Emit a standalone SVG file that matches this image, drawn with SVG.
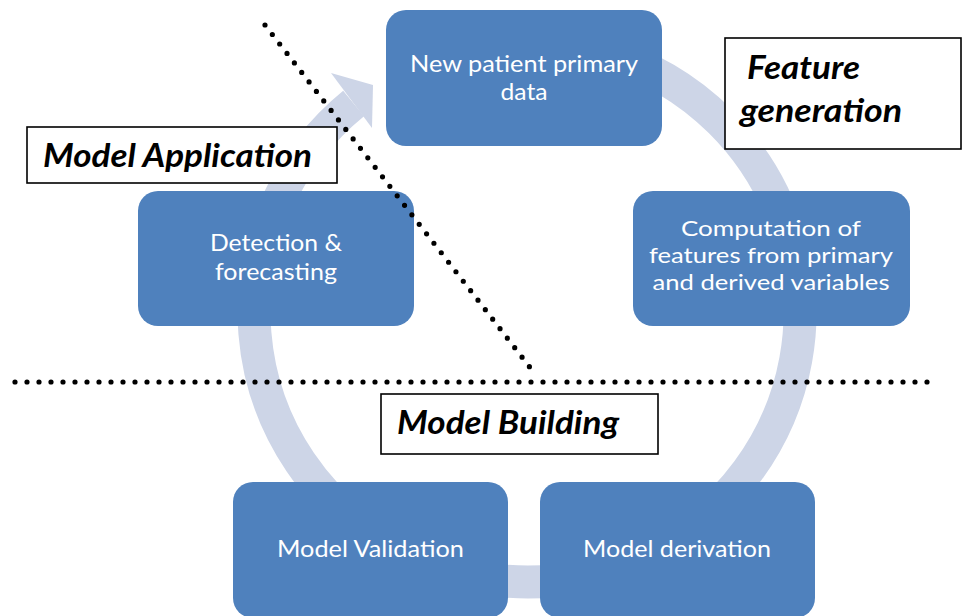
<svg xmlns="http://www.w3.org/2000/svg" width="963" height="616" viewBox="0 0 963 616">
<style>
.box{fill:#4F81BD}
.bt{font-family:Lato,"Open Sans",sans-serif;font-size:24px;fill:#FFFFFF;text-anchor:middle}
.bs{font-size:22px}
.lab{fill:#FFFFFF;stroke:#000000;stroke-width:1.6}
.lt{font-family:Lato,"Open Sans",sans-serif;font-size:32px;font-weight:bold;font-style:italic;fill:#000000}
.ring{fill:none;stroke:#CDD5E7;stroke-width:33}
.head{fill:#CDD5E7}
.dots{fill:none;stroke:#000000;stroke-width:5.2;stroke-linecap:round;stroke-dasharray:0 12}
</style>
<rect width="963" height="616" fill="#FFFFFF"/>
<g id="connectors">
  <path class="ring" d="M479.6,46.1 A273,270 0 1 1 353.6,103.5"/>
  <polygon class="head" points="331,73 373,85 372,128"/>
</g>
<g id="node-new-patient">
  <rect class="box" x="386" y="10" width="276" height="136" rx="20"/>
  <text class="bt" x="524" y="72" textLength="228" lengthAdjust="spacingAndGlyphs">New patient primary</text>
  <text class="bt" x="524" y="100" textLength="47" lengthAdjust="spacingAndGlyphs">data</text>
</g>
<g id="node-computation">
  <rect class="box" x="633" y="191" width="277" height="135" rx="20"/>
  <text class="bt bs" x="771" y="236" textLength="180" lengthAdjust="spacingAndGlyphs">Computation of</text>
  <text class="bt bs" x="771" y="263" textLength="244" lengthAdjust="spacingAndGlyphs">features from primary</text>
  <text class="bt bs" x="771" y="290" textLength="237" lengthAdjust="spacingAndGlyphs">and derived variables</text>
</g>
<g id="node-derivation">
  <rect class="box" x="540" y="482" width="275" height="136" rx="20"/>
  <text class="bt" x="677" y="557" textLength="188" lengthAdjust="spacingAndGlyphs">Model derivation</text>
</g>
<g id="node-validation">
  <rect class="box" x="233" y="482" width="275" height="136" rx="20"/>
  <text class="bt" x="370.5" y="557" textLength="187" lengthAdjust="spacingAndGlyphs">Model Validation</text>
</g>
<g id="node-detection">
  <rect class="box" x="138" y="191" width="276" height="135" rx="20"/>
  <text class="bt" x="276" y="251" textLength="132" lengthAdjust="spacingAndGlyphs">Detection &amp;</text>
  <text class="bt" x="276" y="280" textLength="122" lengthAdjust="spacingAndGlyphs">forecasting</text>
</g>
<g id="label-model-application">
  <rect class="lab" x="27" y="127" width="310" height="56"/>
  <text class="lt" x="43" y="167" textLength="269" lengthAdjust="spacingAndGlyphs">Model Application</text>
</g>
<g id="label-feature-generation">
  <rect class="lab" x="725" y="38" width="236" height="111"/>
  <text class="lt" x="747" y="79" textLength="113" lengthAdjust="spacingAndGlyphs">Feature</text>
  <text class="lt" x="740" y="122" textLength="162" lengthAdjust="spacingAndGlyphs">generation</text>
</g>
<g id="label-model-building">
  <rect class="lab" x="381" y="394" width="277" height="60"/>
  <text class="lt" x="397" y="434" textLength="222" lengthAdjust="spacingAndGlyphs">Model Building</text>
</g>
<g id="separators">
  <line class="dots" x1="15" y1="382" x2="933" y2="382"/>
  <line class="dots" x1="265" y1="25" x2="532" y2="370"/>
</g>
</svg>
